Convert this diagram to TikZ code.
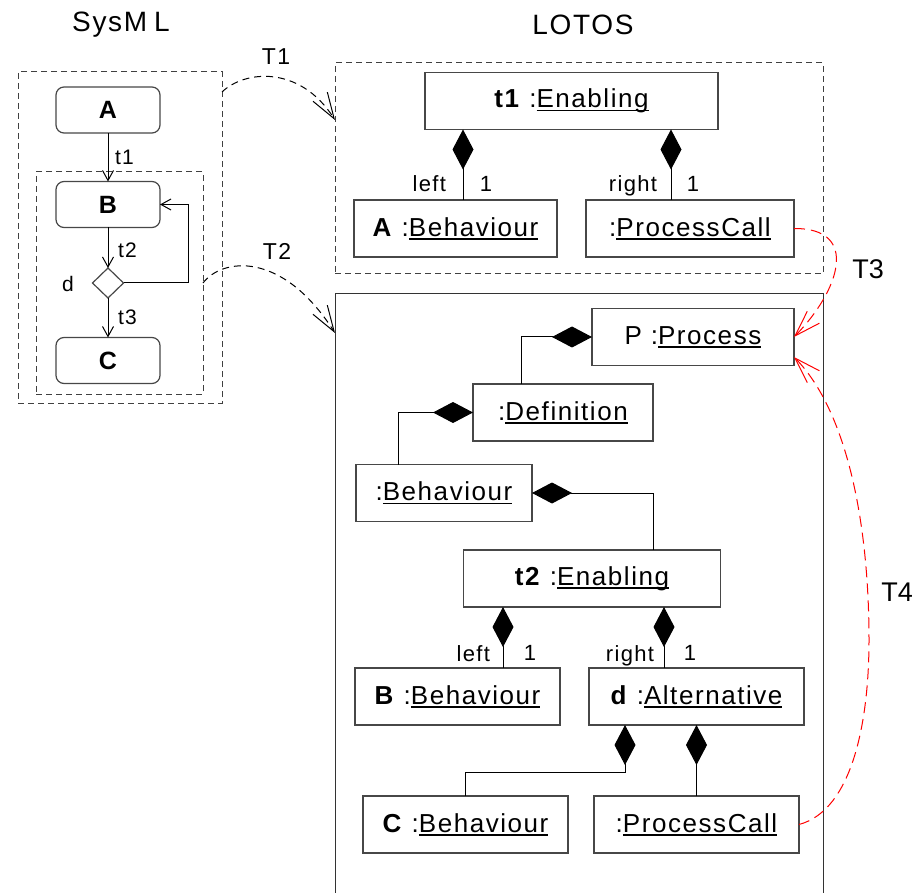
\documentclass[tikz,border=0pt]{standalone}
\usepackage{fontspec}
\setmainfont{Liberation Sans}
\newfontfamily\spaced[LetterSpace=6]{Liberation Sans}
\usetikzlibrary{arrows.meta,shapes.geometric}
% underlined class name, rule just under the baseline
\newcommand\cls[1]{\setbox0\hbox{#1}\rlap{\rule[-3.5pt]{\wd0}{1.3pt}}\box0}

\begin{document}
\begin{tikzpicture}[x=1pt,y=-1pt,
  every node/.style={inner sep=0pt, outer sep=0pt},
  obj/.style={draw=black!72, line width=1.2pt, minimum height=57pt, font=\fontsize{26}{28}\spaced},
  statebox/.style={draw=black!72, line width=1.2pt, rounded corners=8pt, minimum width=104pt, minimum height=46pt, font=\fontsize{25}{28}\spaced\bfseries},
  choice/.style={draw=black!72, line width=1.2pt, diamond, minimum width=31pt, minimum height=30pt},
  frame/.style={draw=black!75, line width=1pt, dash pattern=on 6pt off 4pt},
  lbl/.style={font=\fontsize{22}{24}\spaced},
  smalllbl/.style={font=\fontsize{21}{24}\spaced},
  title/.style={font=\fontsize{28}{30}\spaced},
  maplbl/.style={font=\fontsize{23}{26}\spaced},
  biglbl/.style={font=\fontsize{27}{30}\selectfont},
  tr/.style={draw, line width=1pt, -{Straight Barb[length=10pt,width=11pt]}},
  comp/.style={draw, line width=1pt, {Diamond[length=40pt,width=21pt]}-},
  map/.style={draw, line width=1pt, dash pattern=on 7pt off 5pt, -{Straight Barb[length=26pt,width=17pt]}},
  redmap/.style={map, draw=red, dash pattern=on 11pt off 6pt},
]
\useasboundingbox (0,0) rectangle (916,893);

% titles
\node[title] (tSys) at (121,25) {SysM\hspace{7pt}L};
\node[title] (tLot) at (583,25) {LOTOS};

% ---------------- SysML activity ----------------
\node[frame, minimum width=204pt, minimum height=331pt] (sysOuter) at (120,237.5) {};
\node[frame, minimum width=167pt, minimum height=222pt] (sysInner) at (119.5,283) {};

\node[statebox] (A) at (108,110) {A};
\node[statebox] (B) at (108,204.5) {B};
\node[choice] (d) at (108,283) {};
\node[statebox] (C) at (108,360.5) {C};

\node[smalllbl, anchor=west] (lt1) at (115,157) {t1};
\node[smalllbl, anchor=west] (lt2) at (118,250) {t2};
\node[smalllbl, anchor=west] (lt3) at (118,317) {t3};
\node[smalllbl] (ld) at (68,284) {d};

\draw[tr] (A) -- (B);
\draw[tr] (B) -- (d);
\draw[tr] (d) -- (C);
\draw[tr] (d.east) -| ([xshift=28pt]B.east) -- (B.east);

% ---------------- LOTOS, first enabling ----------------
\node[frame, minimum width=488pt, minimum height=211pt] (lotTop) at (579,168.5) {};

\node[obj, minimum width=293pt] (t1e) at (571.5,101) {\textbf{t1} :\cls{Enabling}};
\node[obj, minimum width=203pt] (ab) at (455.5,228.5) {\textbf{A} :\cls{Behaviour}};
\node[obj, minimum width=208pt] (pc1) at (690,228.5) {:\cls{ProcessCall}};

\coordinate (xa) at (463,0);
\coordinate (xb) at (671,0);
\draw[comp] (t1e.south -| xa) -- (ab.north -| xa);
\draw[comp] (t1e.south -| xb) -- (pc1.north -| xb);
\node[lbl, anchor=base east] (la1) at (446,192) {left};
\node[lbl, anchor=base] (ma1) at (486,192) {1};
\node[lbl, anchor=base east] (la2) at (657,192) {right};
\node[lbl, anchor=base] (ma2) at (693,192) {1};

% ---------------- LOTOS, process definition ----------------
\draw[draw=black!80, line width=1pt] (335,893) |- (823,294) -- (823,893);
\coordinate (lotLowIn) at (335,333);

\node[obj, minimum width=202pt] (pp) at (693,337) {P :\cls{Process}};
\node[obj, minimum width=180pt] (def) at (563,412.5) {:\cls{Definition}};
\node[obj, minimum width=176pt] (beh) at (444,493) {:\cls{Behaviour}};
\node[obj, minimum width=257pt] (t2e) at (592,578.5) {\textbf{t2} :\cls{Enabling}};
\node[obj, minimum width=205pt] (bb) at (457.5,696.5) {\textbf{B} :\cls{Behaviour}};
\node[obj, minimum width=215pt] (dalt) at (696.5,696.5) {\textbf{d} :\cls{Alternative}};
\node[obj, minimum width=205pt] (cb) at (465.5,824.5) {\textbf{C} :\cls{Behaviour}};
\node[obj, minimum width=205pt] (pc2) at (696.5,824.5) {:\cls{ProcessCall}};

\coordinate (x1) at (521,0);
\coordinate (x2) at (398,0);
\coordinate (x3) at (653,0);
\coordinate (x4) at (503,0);
\coordinate (x5) at (664,0);
\coordinate (x6) at (625,0);
\coordinate (yj) at (0,772);

\draw[comp] (pp.west) -| (def.north -| x1);
\draw[comp] (def.west) -| (beh.north -| x2);
\draw[comp] (beh.east) -| (t2e.north -| x3);
\draw[comp] (t2e.south -| x4) -- (bb.north -| x4);
\draw[comp] (t2e.south -| x5) -- (dalt.north -| x5);
\draw[comp] (dalt.south -| x6) |- (cb.north |- yj) -- (cb.north);
\draw[comp] (dalt.south -| pc2.north) -- (pc2.north);

\node[lbl, anchor=base east] (lb1) at (490,661) {left};
\node[lbl, anchor=base] (mb1) at (530,660) {1};
\node[lbl, anchor=base east] (lb2) at (654,661) {right};
\node[lbl, anchor=base] (mb2) at (690,660) {1};

% ---------------- mappings ----------------
\draw[map] ([yshift=145.5pt]sysOuter.east) .. controls (245,70) and (300,65) .. ([yshift=48.5pt]lotTop.west);
\draw[map] (sysInner.east) .. controls (222,258) and (282,250) .. (lotLowIn);
\draw[redmap] (pc1.east) .. controls (860,228) and (840,290) .. (pp.east);
\draw[redmap] (pc2.east) .. controls (853,810) and (869,720) .. (869,640) .. controls (869,520) and (846,410) .. ([yshift=-20pt]pp.east);

\node[maplbl] (T1) at (276,57) {T1};
\node[maplbl] (T2) at (277,251) {T2};
\node[biglbl] (T3) at (868,269) {T3};
\node[biglbl] (T4) at (897,592) {T4};
\end{tikzpicture}
\end{document}
